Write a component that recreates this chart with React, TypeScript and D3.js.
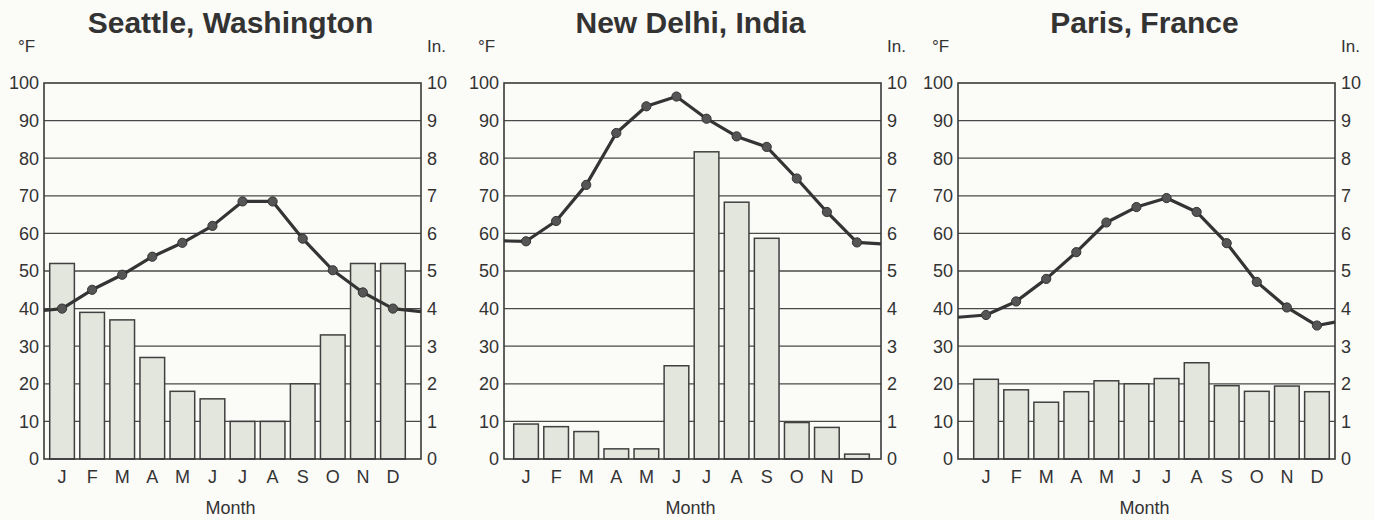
import React from "react";
import * as d3 from "d3";

const months = ["J", "F", "M", "A", "M", "J", "J", "A", "S", "O", "N", "D"];
const tempTicks = [0, 10, 20, 30, 40, 50, 60, 70, 80, 90, 100];
const precipTicks = [0, 1, 2, 3, 4, 5, 6, 7, 8, 9, 10];

const seattleTemp = [40, 45, 49, 53.8, 57.5, 62, 68.5, 68.5, 58.6, 50.2, 44.3, 40];
const seattleTempEdges = [39.5, 39.2];
const seattlePrecip = [5.2, 3.9, 3.7, 2.7, 1.8, 1.6, 1.0, 1.0, 2.0, 3.3, 5.2, 5.2];

const delhiTemp = [57.9, 63.3, 72.9, 86.7, 93.8, 96.4, 90.5, 85.8, 83, 74.6, 65.7, 57.6];
const delhiTempEdges = [58, 57.2];
const delhiPrecip = [0.93, 0.86, 0.73, 0.27, 0.27, 2.48, 8.17, 6.83, 5.87, 0.97, 0.84, 0.13];

const parisTemp = [38.3, 41.9, 47.9, 55, 62.9, 67, 69.4, 65.7, 57.4, 47.1, 40.3, 35.5];
const parisTempEdges = [37.7, 36.4];
const parisPrecip = [2.12, 1.84, 1.51, 1.79, 2.08, 2.0, 2.14, 2.56, 1.95, 1.8, 1.94, 1.79];

const panels = [
  { title: "Seattle, Washington", left: 44, bandStart: 47, temp: seattleTemp, edges: seattleTempEdges, precip: seattlePrecip },
  { title: "New Delhi, India", left: 504, bandStart: 511, temp: delhiTemp, edges: delhiTempEdges, precip: delhiPrecip },
  { title: "Paris, France", left: 958, bandStart: 971, temp: parisTemp, edges: parisTempEdges, precip: parisPrecip },
];

const W = 1374;
const H = 520;
const PLOT_W = 377;
const TOP = 83;
const BOTTOM = 459;
const BAND_W = 361;
const INK = "#333333";
const FONT = "'Liberation Sans', Arial, Helvetica, sans-serif";

function Panel({ p }: { p: (typeof panels)[number] }) {
  const right = p.left + PLOT_W;
  const y = d3.scaleLinear().domain([0, 100]).range([BOTTOM, TOP]);
  const yP = d3.scaleLinear().domain([0, 10]).range([BOTTOM, TOP]);
  const x = d3
    .scaleBand<number>()
    .domain(d3.range(12))
    .range([p.bandStart, p.bandStart + BAND_W])
    .paddingInner(0.18)
    .paddingOuter(0.09);
  const cx = (i: number) => (x(i) as number) + x.bandwidth() / 2;

  const linePts: [number, number][] = [
    [p.left, y(p.edges[0])],
    ...p.temp.map((t, i) => [cx(i), y(t)] as [number, number]),
    [right, y(p.edges[1])],
  ];
  const line = d3.line().curve(d3.curveLinear)(linePts) || "";
  const mid = (p.left + right) / 2;

  return (
    <g>
      <text x={mid - 2} y={33} textAnchor="middle" fontSize={30} fontWeight="bold" fill={INK}>
        {p.title}
      </text>
      <text x={p.left - 26} y={52} fontSize={17} fill={INK}>°F</text>
      <text x={right + 6} y={52} fontSize={17} fill={INK}>In.</text>

      {tempTicks.slice(1, -1).map((t) => (
        <line key={"g" + t} x1={p.left} x2={right} y1={y(t)} y2={y(t)} stroke="#4a4a4a" strokeWidth={1.3} />
      ))}

      {p.precip.map((v, i) => (
        <rect
          key={"b" + i}
          x={x(i)}
          y={yP(v)}
          width={x.bandwidth()}
          height={BOTTOM - yP(v)}
          fill="#e2e6dd"
          stroke="#404040"
          strokeWidth={1.5}
        />
      ))}

      <rect x={p.left} y={TOP} width={PLOT_W} height={BOTTOM - TOP} fill="none" stroke="#3a3a3a" strokeWidth={1.6} />

      {tempTicks.map((t) => (
        <text key={"l" + t} x={p.left - 5} y={y(t)} dy="0.36em" textAnchor="end" fontSize={18} fill={INK}>
          {t}
        </text>
      ))}
      {precipTicks.map((t) => (
        <text key={"r" + t} x={right + 6} y={yP(t)} dy="0.36em" textAnchor="start" fontSize={18} fill={INK}>
          {t}
        </text>
      ))}

      <path d={line} fill="none" stroke="#343434" strokeWidth={3.2} strokeLinejoin="round" />
      {p.temp.map((t, i) => (
        <circle key={"c" + i} cx={cx(i)} cy={y(t)} r={4.6} fill="#555" stroke="#333" strokeWidth={1} />
      ))}

      {months.map((m, i) => (
        <text key={"m" + i} x={cx(i)} y={483} textAnchor="middle" fontSize={18} fill={INK}>
          {m}
        </text>
      ))}
      <text x={mid - 2} y={514} textAnchor="middle" fontSize={18} fill={INK}>Month</text>
    </g>
  );
}

export default function App() {
  return (
    <div style={{ position: "absolute", left: 0, top: 0 }}>
      <svg width={W} height={H} style={{ display: "block", fontFamily: FONT }}>
        <rect x={0} y={0} width={W} height={H} fill="#fbfbf8" />
        {panels.map((p) => (
          <Panel key={p.title} p={p} />
        ))}
      </svg>
    </div>
  );
}
